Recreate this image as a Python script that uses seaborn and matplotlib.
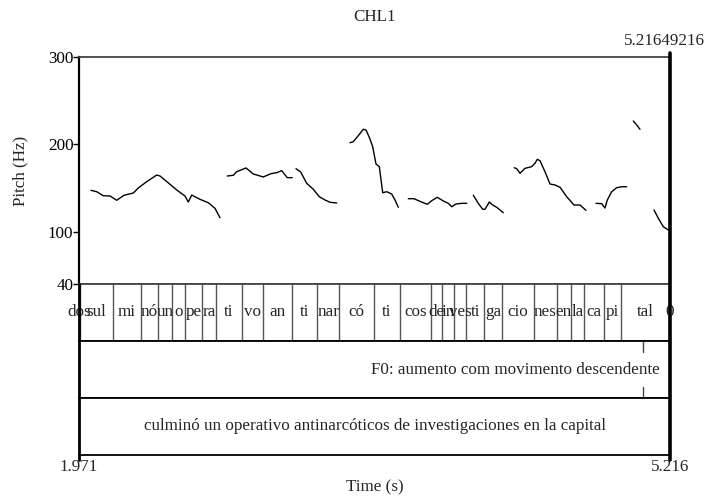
import numpy as np
import pandas as pd
import matplotlib
matplotlib.use("Agg")
import matplotlib.pyplot as plt
import seaborn as sns
from matplotlib.lines import Line2D

sns.set_theme(style="white")
plt.rcParams['font.family'] = ['Liberation Serif', 'DejaVu Serif']
FS = 12.25

T_START = 1.971
T_END = 5.21649216

# Pitch contour (Hz), one list pair per voiced stretch
seg1_t = [2.0369, 2.0682, 2.1044, 2.1412, 2.1780, 2.2181, 2.2692, 2.2966, 2.3428, 2.3977,
          2.4158, 2.4707, 2.5075, 2.5531, 2.5712, 2.5899, 2.6354, 2.6810, 2.7178, 2.7453]
seg1_f = [147.3, 145.7, 141.1, 140.8, 135.9, 141.6, 144.2, 150.0, 157.2, 164.8,
          163.7, 154.2, 147.7, 140.8, 133.9, 141.9, 137.0, 133.1, 126.7, 115.9]
seg2_t = [2.7854, 2.8183, 2.8370, 2.8881, 2.9282, 2.9831, 3.0237, 3.0567, 3.0841, 3.1149, 3.1423]
seg2_f = [163.7, 164.5, 168.6, 172.9, 166.0, 162.6, 166.3, 167.5, 169.8, 161.8, 161.8]
seg3_t = [3.1626, 3.1884, 3.2214, 3.2577, 3.2906, 3.3219, 3.3494, 3.3862]
seg3_f = [172.1, 168.3, 155.3, 148.5, 140.0, 136.2, 133.6, 132.8]
seg4_t = [3.4592, 3.4773, 3.5048, 3.5322, 3.5471, 3.5652, 3.5838, 3.6020, 3.6201, 3.6388,
          3.6608, 3.6882, 3.7063, 3.7244]
seg4_f = [201.8, 203.0, 209.9, 217.2, 216.4, 208.0, 197.3, 177.4, 174.4, 144.6,
          145.7, 143.1, 136.2, 127.9]
seg5_t = [3.7793, 3.8106, 3.8474, 3.8837, 3.9078, 3.9386, 3.9715, 3.9990, 4.0177, 4.0413, 4.0726, 4.1001]
seg5_f = [137.7, 137.7, 134.3, 131.3, 135.4, 139.3, 135.1, 132.4, 128.5, 131.6, 132.4, 132.4]
seg6_t = [4.1363, 4.1637, 4.1879, 4.2005, 4.2242, 4.2428, 4.2648, 4.2829, 4.3010]
seg6_f = [141.6, 132.4, 125.6, 125.6, 133.9, 130.5, 127.9, 124.8, 121.7]
seg7_t = [4.3614, 4.3746, 4.3927, 4.4202, 4.4570, 4.4751, 4.4878, 4.5026, 4.5300, 4.5575,
          4.5850, 4.6124, 4.6492, 4.6893, 4.7222, 4.7552]
seg7_f = [173.2, 172.1, 166.8, 172.5, 174.4, 178.3, 182.8, 181.2, 168.6, 154.5,
          153.4, 150.8, 140.0, 130.5, 130.5, 124.4]
seg8_t = [4.8101, 4.8414, 4.8595, 4.8721, 4.8963, 4.9238, 4.9512, 4.9787]
seg8_f = [132.4, 132.0, 127.0, 136.2, 145.7, 150.3, 151.4, 151.4]
seg9_t = [5.0149, 5.0336, 5.0517]
seg9_f = [226.7, 222.1, 217.2]
seg10_t = [5.1286, 5.1522, 5.1797, 5.2071]
seg10_f = [124.8, 115.3, 105.6, 101.9]

segments_t = [seg1_t, seg2_t, seg3_t, seg4_t, seg5_t, seg6_t, seg7_t, seg8_t, seg9_t, seg10_t]
segments_f = [seg1_f, seg2_f, seg3_f, seg4_f, seg5_f, seg6_f, seg7_f, seg8_f, seg9_f, seg10_f]

# Syllable tier
syllables = ["dos", "sul", "mi", "nó", "un", "o", "pe", "ra", "ti", "vo", "an", "ti", "nar", "có",
             "ti", "cos", "de", "in", "ves", "ti", "ga", "cio", "nes", "en", "la", "ca", "pi", "tal", "0"]
syll_bounds = [1.90, 1.9765, 2.1561, 2.3115, 2.4032, 2.4834, 2.5531, 2.6448, 2.7233, 2.8645,
               2.9798, 3.1390, 3.2796, 3.4004, 3.5910, 3.7337, 3.9024, 3.9661, 4.0303, 4.0962,
               4.1967, 4.2955, 4.4697, 4.5943, 4.6728, 4.7458, 4.8540, 4.9457, 5.2120, 5.30]

# Point tier
point_time = 5.0698
point_label = "F0: aumento com movimento descendente"

# Sentence tier
sentence = "culminó un operativo antinarcóticos de investigaciones en la capital"

pitch_ticks = [40, 100, 200, 300]

df = pd.concat(
    [pd.DataFrame({"time": t, "f0": f, "seg": i}) for i, (t, f) in enumerate(zip(segments_t, segments_f))],
    ignore_index=True)

W, H = 712, 499
fig = plt.figure(figsize=(W / 100, H / 100), dpi=100)


def rect(x0, y0, x1, y1):
    return [x0 / W, 1 - y1 / H, (x1 - x0) / W, (y1 - y0) / H]


X0, X1 = 79, 670
ax_p = fig.add_axes(rect(X0, 57, X1, 284))
ax_s = fig.add_axes(rect(X0, 284, X1, 341))
ax_f = fig.add_axes(rect(X0, 341, X1, 398))
ax_w = fig.add_axes(rect(X0, 398, X1, 455))

# Pitch panel
sns.lineplot(data=df, x="time", y="f0", units="seg", estimator=None, color="black",
             lw=1.0, ax=ax_p, legend=False)
ax_p.set_xlim(T_START, T_END)
ax_p.set_ylim(40, 300)
ax_p.set_yticks(pitch_ticks)
ax_p.set_yticklabels([str(v) for v in pitch_ticks], fontsize=FS)
ax_p.set_xticks([])
ax_p.set_xlabel("")
ax_p.set_ylabel("")
ax_p.tick_params(axis="y", direction="out", length=4, width=1, pad=0, colors="black", left=True)
for side, sp in ax_p.spines.items():
    sp.set_color("#444444" if side in ("top", "bottom") else "black")
    sp.set_linewidth(1.3)
ax_p.spines["right"].set_linewidth(0)
ax_p.spines["left"].set_linewidth(1.6)

# Tier panels
for ax in (ax_s, ax_f, ax_w):
    ax.set_xlim(T_START, T_END)
    ax.set_ylim(0, 1)
    ax.set_xticks([])
    ax.set_yticks([])
    for side, sp in ax.spines.items():
        sp.set_color("black")
        sp.set_linewidth(1.3)
    ax.spines["left"].set_linewidth(0)
    ax.spines["right"].set_linewidth(0)
ax_s.spines["top"].set_color("#444444")

for i, lab in enumerate(syllables):
    lo = max(syll_bounds[i], T_START)
    hi = min(syll_bounds[i + 1], T_END)
    if hi <= lo:
        continue
    ax_s.text((lo + hi) / 2, 0.5, lab, ha="center", va="center", fontsize=FS, clip_on=False)
for b in syll_bounds:
    if T_START < b < T_END:
        ax_s.axvline(b, color="#555555", lw=1.0)

ax_f.plot([point_time, point_time], [1, 0.8], color="#444444", lw=1.0)
ax_f.plot([point_time, point_time], [0, 0.2], color="#444444", lw=1.0)
ax_f.text(0.983, 0.5, point_label, transform=ax_f.transAxes, ha="right", va="center", fontsize=FS)

ax_w.text(0.5, 0.5, sentence, transform=ax_w.transAxes, ha="center", va="center", fontsize=FS)

# Edge cursors spanning all panels
fig.add_artist(Line2D([X0 / W, X0 / W], [1 - 284 / H, 1 - 460 / H], color="black", lw=2.0))
fig.add_artist(Line2D([X1 / W, X1 / W], [1 - 53 / H, 1 - 460 / H], color="black", lw=2.6))

# Labels
fig.text(374.5 / W, 1 - 17 / H, "CHL1", ha="center", va="center", fontsize=FS)
fig.text(664 / W, 1 - 41 / H, f"{T_END:.8f}", ha="center", va="center", fontsize=FS)
fig.text(20 / W, 1 - 170.5 / H, "Pitch (Hz)", rotation=90, ha="center", va="center", fontsize=FS)
fig.text(X0 / W, 1 - 467 / H, f"{T_START:.3f}", ha="center", va="center", fontsize=FS)
fig.text(X1 / W, 1 - 467 / H, f"{T_END:.3f}", ha="center", va="center", fontsize=FS)
fig.text(374.5 / W, 1 - 487 / H, "Time (s)", ha="center", va="center", fontsize=FS)

fig.savefig("out.png", dpi=100, facecolor="white")
